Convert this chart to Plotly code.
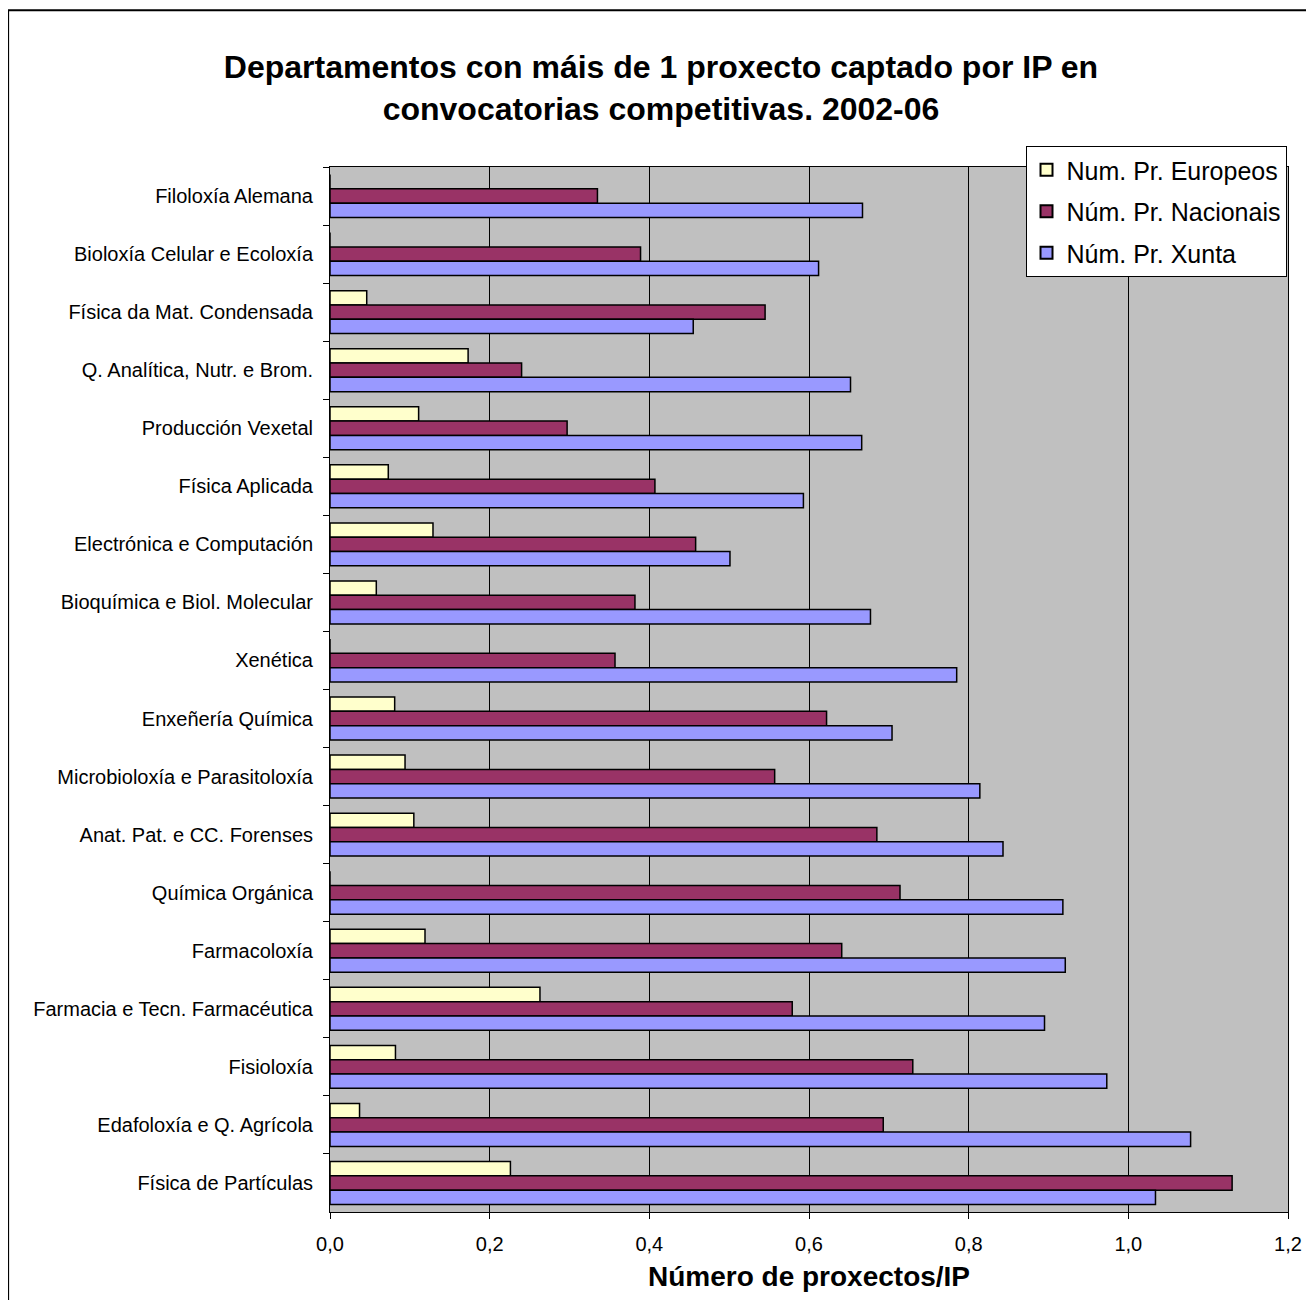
import plotly.graph_objects as go

# Departamentos, de arriba a abaixo
departamentos = [
    "Filoloxía Alemana",
    "Bioloxía Celular e Ecoloxía",
    "Física da Mat. Condensada",
    "Q. Analítica, Nutr. e Brom.",
    "Producción Vexetal",
    "Física Aplicada",
    "Electrónica e Computación",
    "Bioquímica e Biol. Molecular",
    "Xenética",
    "Enxeñería Química",
    "Microbioloxía e Parasitoloxía",
    "Anat. Pat. e CC. Forenses",
    "Química Orgánica",
    "Farmacoloxía",
    "Farmacia e Tecn. Farmacéutica",
    "Fisioloxía",
    "Edafoloxía e Q. Agrícola",
    "Física de Partículas",
]

europeos = [0, 0, 0.046, 0.173, 0.111, 0.073, 0.129, 0.058, 0, 0.081,
            0.094, 0.105, 0, 0.119, 0.263, 0.082, 0.037, 0.226]
nacionais = [0.335, 0.389, 0.545, 0.240, 0.297, 0.407, 0.458, 0.382, 0.357, 0.622,
             0.557, 0.685, 0.714, 0.641, 0.579, 0.730, 0.693, 1.130]
xunta = [0.667, 0.612, 0.455, 0.652, 0.666, 0.593, 0.501, 0.677, 0.785, 0.704,
         0.814, 0.843, 0.918, 0.921, 0.895, 0.973, 1.078, 1.034]

series = [
    ("Num. Pr. Europeos", europeos, "#FFFFCC"),
    ("Núm. Pr. Nacionais", nacionais, "#993366"),
    ("Núm. Pr. Xunta", xunta, "#9999FF"),
]

FONT = "Liberation Sans, Arial, sans-serif"

fig = go.Figure()
for i, (name, vals, col) in enumerate(series):
    fig.add_trace(go.Bar(
        y=departamentos, x=vals, name=name, orientation="h",
        legendgroup=f"g{i}",
        marker=dict(color=col, line=dict(color="black", width=1.5)),
    ))

# a páxina ten 8px de marxe no body, por iso 1306x1292
fig.update_layout(
    width=1306, height=1292,
    margin=dict(l=322, r=23, t=159, b=88),
    paper_bgcolor="white", plot_bgcolor="#C0C0C0",
    barmode="group", bargap=0.26, bargroupgap=0,
    separators=",.",
    font=dict(family=FONT, color="black", size=20),
    title=dict(
        text="<b>Departamentos con máis de 1 proxecto captado por IP en<br>convocatorias competitivas. 2002-06</b>",
        x=0.5, xref="container", xanchor="center",
        y=1 - 70 / 1292, yanchor="top",
        font=dict(family=FONT, size=32, color="black"),
    ),
    legend=dict(
        x=0.726, y=1.02, xanchor="left", yanchor="top",
        bgcolor="white", bordercolor="black", borderwidth=1,
        font=dict(family=FONT, size=25, color="black"),
        itemsizing="constant", itemwidth=30,
        traceorder="grouped", tracegroupgap=6,
    ),
    showlegend=True,
)

fig.update_xaxes(
    range=[0, 1.2], dtick=0.2, tickformat=".1f",
    showgrid=True, gridcolor="black", gridwidth=1,
    showline=True, linecolor="black", linewidth=1, mirror=True,
    ticks="outside", ticklen=6, tickcolor="black",
    tickfont=dict(size=20), ticklabelstandoff=8,
    title=dict(text="<b>Número de proxectos/IP</b>", font=dict(size=28), standoff=12),
    zeroline=False,
)
fig.update_yaxes(
    autorange="reversed", showgrid=False,
    showline=True, linecolor="black", linewidth=1, mirror=True,
    ticks="outside", ticklen=6, tickcolor="black", tickson="boundaries",
    tickfont=dict(size=20), ticklabelstandoff=12,
)

# borde exterior do gráfico
fig.add_shape(type="rect", xref="paper", yref="paper",
              x0=-0.336, x1=1.2, y0=-0.3, y1=1.150,
              line=dict(color="black", width=2), fillcolor="rgba(0,0,0,0)",
              layer="below")

fig.write_html("out.html")
